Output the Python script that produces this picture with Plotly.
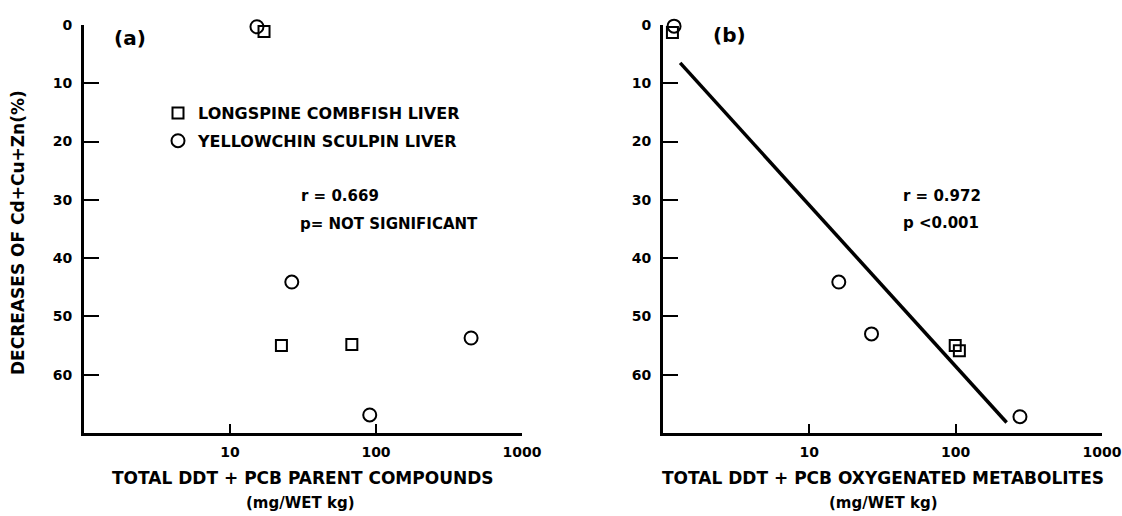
import plotly.graph_objects as go

# ---- data ----
# Panel (a): parent compounds
a_comb_x = [17.1, 22.5, 68.3]
a_comb_y = [1.1, 55.0, 54.8]
a_sculp_x = [15.3, 26.5, 448.0, 90.6]
a_sculp_y = [0.3, 44.1, 53.7, 66.9]

# Panel (b): oxygenated metabolites
b_comb_x = [1.16, 99.3, 106.0]
b_comb_y = [1.3, 55.0, 55.9]
b_sculp_x = [1.19, 15.9, 26.6, 275.0]
b_sculp_y = [0.2, 44.1, 53.0, 67.2]
b_fit_x = [1.31, 223.0]
b_fit_y = [6.5, 68.2]

x_tickvals = [10, 100, 1000]
x_ticktext = ["10", "100", "1000"]
y_tickvals = [0, 10, 20, 30, 40, 50, 60]

legend_names = ["LONGSPINE COMBFISH LIVER", "YELLOWCHIN SCULPIN LIVER"]

FONT = "DejaVu Sans"
W, H = 1122, 516

def px_x(p):
    return p / W

def px_y(p):
    return 1 - p / H

fig = go.Figure()

sq = dict(symbol="square-open", size=11, color="black", line=dict(width=2, color="black"))
ci = dict(symbol="circle-open", size=13, color="black", line=dict(width=2, color="black"))

fig.add_trace(go.Scatter(x=a_comb_x, y=a_comb_y, mode="markers", marker=sq,
                         name=legend_names[0], legendgroup="g1", xaxis="x", yaxis="y",
                         cliponaxis=False))
fig.add_trace(go.Scatter(x=a_sculp_x, y=a_sculp_y, mode="markers", marker=ci,
                         name=legend_names[1], legendgroup="g2", xaxis="x", yaxis="y",
                         cliponaxis=False))
fig.add_trace(go.Scatter(x=b_comb_x, y=b_comb_y, mode="markers", marker=sq,
                         showlegend=False, xaxis="x2", yaxis="y2", cliponaxis=False))
fig.add_trace(go.Scatter(x=b_sculp_x, y=b_sculp_y, mode="markers", marker=ci,
                         showlegend=False, xaxis="x2", yaxis="y2", cliponaxis=False))
fig.add_trace(go.Scatter(x=b_fit_x, y=b_fit_y, mode="lines",
                         line=dict(color="black", width=3.5),
                         showlegend=False, xaxis="x2", yaxis="y2", cliponaxis=False))

tickfont = dict(family=FONT, size=14, color="black", weight="bold")

def xaxis(domain, anchor):
    return dict(domain=domain, anchor=anchor, type="log", range=[0, 3],
                tickvals=x_tickvals, ticktext=x_ticktext, ticks="inside",
                ticklen=9, tickwidth=2, tickcolor="black", showline=True,
                linewidth=3, linecolor="black", showgrid=False, zeroline=False,
                tickfont=tickfont, ticklabelstandoff=4, automargin=False)

def yaxis(anchor):
    return dict(domain=[px_y(433), px_y(25)], anchor=anchor, range=[70, 0],
                tickvals=y_tickvals, ticks="inside", ticklen=15, tickwidth=2,
                tickcolor="black", showline=True, linewidth=3, linecolor="black",
                showgrid=False, zeroline=False, tickfont=tickfont,
                ticklabelstandoff=6, automargin=False)

ann = []
tfont = dict(family=FONT, size=17, color="black", weight="bold")
ufont = dict(family=FONT, size=15, color="black", weight="bold")
afont = dict(family=FONT, size=15, color="black", weight="bold")

def pann(text, x, y, font, angle=0):
    return dict(text=text, x=px_x(x), y=px_y(y), xref="paper", yref="paper",
                xanchor="center", yanchor="middle", showarrow=False, font=font,
                textangle=angle)

# Axis titles
ann.append(pann("DECREASES OF Cd+Cu+Zn(%)", 18, 233, tfont, -90))
ann.append(pann("TOTAL DDT + PCB PARENT COMPOUNDS", 303, 478, tfont))
ann.append(pann("(mg/WET kg)", 300, 503, ufont))
ann.append(pann("TOTAL DDT + PCB OXYGENATED METABOLITES", 883, 478, tfont))
ann.append(pann("(mg/WET kg)", 883, 503, ufont))

# Panel labels and statistics
ann.append(dict(text="(a)", x=0.314, y=2.3, xref="x", yref="y", showarrow=False,
                xanchor="center", yanchor="middle",
                font=dict(family=FONT, size=20, color="black", weight="bold")))
ann.append(dict(text="(b)", x=0.456, y=1.7, xref="x2", yref="y2", showarrow=False,
                xanchor="center", yanchor="middle",
                font=dict(family=FONT, size=20, color="black", weight="bold")))
ann.append(dict(text="r = 0.669", x=1.474, y=29.4, xref="x", yref="y", xanchor="left",
                yanchor="middle", showarrow=False, font=afont))
ann.append(dict(text="p= NOT SIGNIFICANT", x=1.467, y=34.1, xref="x", yref="y",
                xanchor="left", yanchor="middle", showarrow=False, font=afont))
ann.append(dict(text="r = 0.972", x=1.627, y=29.3, xref="x2", yref="y2", xanchor="left",
                yanchor="middle", showarrow=False, font=afont))
ann.append(dict(text="p <0.001", x=1.627, y=33.9, xref="x2", yref="y2", xanchor="left",
                yanchor="middle", showarrow=False, font=afont))

fig.update_layout(
    width=W, height=H,
    margin=dict(l=0, r=0, t=0, b=0, autoexpand=False),
    paper_bgcolor="white", plot_bgcolor="white",
    xaxis=xaxis([px_x(84), px_x(522)], "y"),
    yaxis=yaxis("x"),
    xaxis2=xaxis([px_x(663), px_x(1102)], "y2"),
    yaxis2=yaxis("x2"),
    annotations=ann,
    showlegend=True,
    legend=dict(x=px_x(158), y=px_y(96), xanchor="left", yanchor="top",
                bgcolor="rgba(0,0,0,0)", borderwidth=0,
                traceorder="grouped", tracegroupgap=4,
                font=dict(family=FONT, size=16, color="black", weight="bold")),
)

fig.write_html("out.html", config={"displayModeBar": False},
               post_script="document.body.style.margin='0px';document.body.style.padding='0px';")
